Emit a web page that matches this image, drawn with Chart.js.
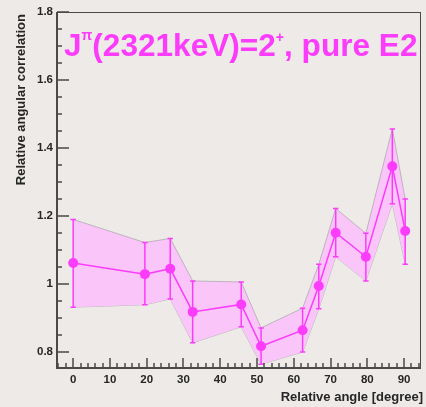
<!DOCTYPE html>
<html>
<head>
<meta charset="utf-8">
<script src="https://cdn.jsdelivr.net/npm/chart.js@4.4.1/dist/chart.umd.min.js"></script>
<style>
  html, body { margin: 0; padding: 0; background: #edeae7; }
  #wrap { width: 426px; height: 407px; }
</style>
</head>
<body>
<div id="wrap"><canvas id="c" width="426" height="407"></canvas></div>
<script>
// Relative angle of each detector pair [degree]
const angles = [0, 19.5, 26.4, 32.5, 45.7, 51.1, 62.4, 66.8, 71.4, 79.6, 86.8, 90.3];
// Measured relative angular correlation
const correlation = [1.062, 1.029, 1.045, 0.918, 0.940, 0.817, 0.864, 0.994, 1.151, 1.080, 1.346, 1.156];
// Upper and lower ends of the error bars (also the edges of the shaded band)
const bandUpper = [1.190, 1.122, 1.134, 1.009, 1.006, 0.871, 0.929, 1.058, 1.222, 1.149, 1.456, 1.250];
const bandLower = [0.932, 0.939, 0.956, 0.827, 0.874, 0.764, 0.800, 0.927, 1.080, 1.009, 1.236, 1.058];
// Labelled tick values
const xTickValues = [0, 10, 20, 30, 40, 50, 60, 70, 80, 90];
const yTickValues = [0.8, 1.0, 1.2, 1.4, 1.6, 1.8];

const MAGENTA = '#fb3cfb';
const BAND = 'rgb(250,198,250)';
const AXIS = '#4a4a4a';
const TEXT = '#262626';
const FONT = '"Liberation Sans", Arial, Helvetica, sans-serif';

const toPts = ys => angles.map((x, i) => ({ x, y: ys[i] }));

// Vertical error bars with small caps, drawn just before the data line
const errorBars = {
  id: 'errorBars',
  beforeDatasetDraw(chart, args) {
    if (args.index !== 0) return;
    const { ctx, scales: { x, y } } = chart;
    ctx.save();
    ctx.strokeStyle = MAGENTA;
    ctx.lineWidth = 1.5;
    angles.forEach((a, i) => {
      const px = x.getPixelForValue(a);
      const top = y.getPixelForValue(bandUpper[i]);
      const bot = y.getPixelForValue(bandLower[i]);
      ctx.beginPath();
      ctx.moveTo(px, top); ctx.lineTo(px, bot);
      ctx.moveTo(px - 2.7, top); ctx.lineTo(px + 2.7, top);
      ctx.moveTo(px - 2.7, bot); ctx.lineTo(px + 2.7, bot);
      ctx.stroke();
    });
    ctx.restore();
  }
};

// Frame with inward-pointing major and minor ticks
const frameTicks = {
  id: 'frameTicks',
  afterDraw(chart) {
    const { ctx, chartArea: ca, scales: { x, y } } = chart;
    ctx.save();
    ctx.strokeStyle = AXIS;
    ctx.lineWidth = 1;
    ctx.strokeRect(ca.left + 0.5, ca.top + 0.5, ca.right - ca.left - 1, ca.bottom - ca.top - 1);
    ctx.lineWidth = 2;
    ctx.beginPath();
    ctx.moveTo(ca.left, ca.top); ctx.lineTo(ca.left, ca.bottom); ctx.lineTo(ca.right, ca.bottom);
    ctx.stroke();
    ctx.lineWidth = 1.5;
    ctx.beginPath();
    for (let v = -4; v <= 94; v += 2) {
      const px = Math.round(x.getPixelForValue(v));
      const len = (v % 10 === 0) ? 10 : 5;
      ctx.moveTo(px, ca.bottom); ctx.lineTo(px, ca.bottom - len);
    }
    for (let k = 16; k <= 36; k++) {
      const v = k * 0.05;
      const py = Math.round(y.getPixelForValue(v));
      const len = (k % 4 === 0) ? 12 : 5;
      ctx.moveTo(ca.left, py); ctx.lineTo(ca.left + len, py);
    }
    ctx.stroke();
    ctx.restore();
  }
};

// Headline with superscripts, plus the two axis titles
const labels = {
  id: 'labels',
  afterDraw(chart) {
    const { ctx } = chart;
    ctx.save();
    ctx.fillStyle = MAGENTA;
    ctx.textBaseline = 'alphabetic';
    ctx.textAlign = 'left';
    const big = 'bold 31.6px ' + FONT;
    const small = 'bold 14px ' + FONT;
    const parts = [
      ['J', big, 0], ['\u03c0', small, -16], ['(2321keV)=2', big, 0],
      ['+', small, -14], [', pure E2', big, 0]
    ];
    let px = 64;
    const base = 56;
    parts.forEach(([t, f, dy]) => {
      ctx.font = f;
      ctx.fillText(t, px, base + dy);
      px += ctx.measureText(t).width;
    });

    ctx.fillStyle = TEXT;
    ctx.font = 'bold 13px ' + FONT;
    ctx.textAlign = 'right';
    ctx.fillText('Relative angle [degree]', 423, 401);
    ctx.translate(25, 14);
    ctx.rotate(-Math.PI / 2);
    ctx.textAlign = 'right';
    ctx.fillText('Relative angular correlation', 0, 0);
    ctx.restore();
  }
};

new Chart(document.getElementById('c'), {
  type: 'line',
  data: {
    datasets: [
      {
        data: toPts(correlation),
        borderColor: MAGENTA,
        backgroundColor: MAGENTA,
        borderWidth: 1.5,
        pointRadius: 5,
        pointBorderWidth: 0,
        pointBackgroundColor: MAGENTA,
        tension: 0,
        fill: false,
        order: 0
      },
      {
        data: toPts(bandUpper),
        borderColor: '#a8a0a8',
        borderWidth: 0.7,
        pointRadius: 0,
        tension: 0,
        backgroundColor: BAND,
        fill: 2,
        order: 2
      },
      {
        data: toPts(bandLower),
        borderColor: '#a8a0a8',
        borderWidth: 0.7,
        pointRadius: 0,
        tension: 0,
        fill: false,
        order: 3
      }
    ]
  },
  options: {
    responsive: false,
    animation: false,
    events: [],
    layout: { padding: { top: 12, right: 1, left: 0, bottom: 0 } },
    plugins: { legend: { display: false }, tooltip: { enabled: false }, title: { display: false } },
    scales: {
      x: {
        type: 'linear',
        min: -4.4,
        max: 94.6,
        afterBuildTicks: s => { s.ticks = xTickValues.map(v => ({ value: v })); },
        afterFit: s => { s.height = 39; },
        grid: { display: false, drawTicks: false },
        border: { display: false },
        ticks: {
          padding: 5,
          maxRotation: 0,
          autoSkip: false,
          color: TEXT,
          font: { family: FONT, size: 11.5, weight: 'bold' },
          callback: v => String(v)
        }
      },
      y: {
        type: 'linear',
        min: 0.753,
        max: 1.8,
        afterBuildTicks: s => { s.ticks = yTickValues.map(v => ({ value: v })); },
        afterFit: s => { s.width = 57; },
        grid: { display: false, drawTicks: false },
        border: { display: false },
        ticks: {
          padding: 4,
          autoSkip: false,
          color: TEXT,
          font: { family: FONT, size: 11.5, weight: 'bold' },
          callback: v => String(Number(v.toFixed(2)))
        }
      }
    }
  },
  plugins: [errorBars, frameTicks, labels]
});
</script>
</body>
</html>
